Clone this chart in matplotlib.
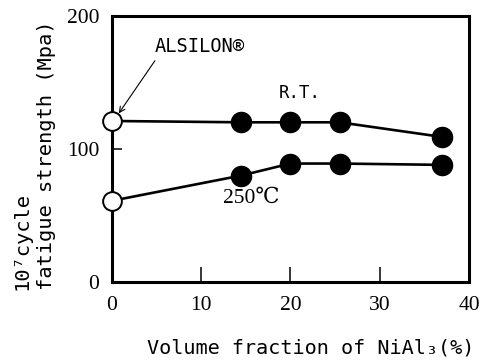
import matplotlib
matplotlib.use("Agg")
import matplotlib.pyplot as plt

# fatigue strength vs NiAl3 volume fraction
vol_frac = [0, 14.5, 20, 25.5, 37]
strength_rt = [121, 120, 120, 120, 109]
strength_250 = [61, 80, 89, 89, 88]

mono = ["DejaVu Sans Mono"]
serif = ["Liberation Serif", "DejaVu Serif"]

fig = plt.figure(figsize=(4.8, 3.61), dpi=100)
ax = fig.add_axes([0.233, 0.219, 0.744, 0.737])

for ys in (strength_rt, strength_250):
    ax.plot(vol_frac, ys, color="black", lw=1.9, zorder=2)
    # first point (x=0) is the base alloy: open circle
    ax.plot(vol_frac[:1], ys[:1], "o", ms=13.5, mfc="white", mec="black",
            mew=1.4, zorder=3, clip_on=False)
    ax.plot(vol_frac[1:], ys[1:], "o", ms=14.5, mfc="black", mec="black",
            zorder=3, clip_on=False)

ax.set_xlim(0, 40)
ax.set_ylim(0, 200)
ax.set_xticks([0, 10, 20, 30, 40])
ax.set_yticks([0, 100, 200])
ax.tick_params(axis="x", direction="in", length=11, width=1.1, pad=10)
ax.tick_params(axis="y", direction="in", length=7, width=1.1, pad=9)
for lab in ax.get_xticklabels() + ax.get_yticklabels():
    lab.set_family(serif)
    lab.set_fontsize(15.5)
for sp in ax.spines.values():
    sp.set_linewidth(2.2)

ax.text(4.8, 177, "ALSILON®", family=mono, fontsize=13.5, va="center", ha="left")
ax.annotate("", xy=(0.6, 125), xytext=(5.0, 168),
            arrowprops=dict(arrowstyle="->", lw=0.8, color="black"),
            annotation_clip=False)
ax.text(21.1, 142, "R.T.", family=mono, fontsize=12.5, ha="center", va="center")
ax.text(15.6, 63, "250℃", family=serif, fontsize=15.5, ha="center", va="center")

fig.text(0.647, 0.035, "Volume fraction of NiAl₃(%)", family=mono,
         fontsize=14.5, ha="center", va="center")
fig.text(0.072, 0.197, "10⁷cycle\nfatigue strength (Mpa)", family=mono,
         fontsize=14.7, rotation=90, ha="center", va="bottom",
         multialignment="left", linespacing=1.38)

fig.savefig("out.png", dpi=100)
